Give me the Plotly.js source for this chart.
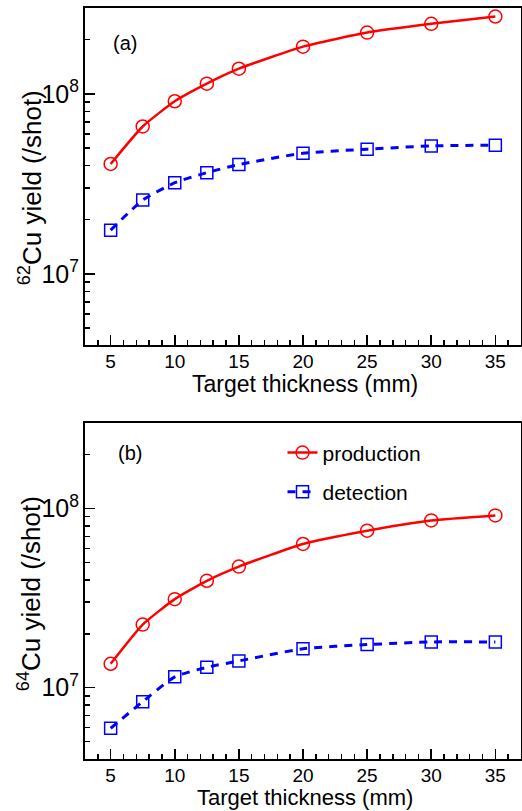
<!DOCTYPE html>
<html>
<head>
<meta charset="utf-8">
<script src="https://cdn.plot.ly/plotly-3.0.1.min.js"></script>
<style>html,body{margin:0;padding:0;background:#fff;}#chart{width:522px;height:811px;}</style>
</head>
<body>
<div id="chart"></div>
<script>
// Data
const thickness = [5, 7.5, 10, 12.5, 15, 20, 25, 30, 35];
const cu62Production = [4.08e7, 6.59e7, 9.1e7, 1.14e8, 1.38e8, 1.83e8, 2.19e8, 2.45e8, 2.69e8];
const cu62Detection  = [1.75e7, 2.57e7, 3.21e7, 3.65e7, 4.05e7, 4.68e7, 4.93e7, 5.14e7, 5.19e7];
const cu64Production = [1.36e7, 2.25e7, 3.12e7, 3.95e7, 4.74e7, 6.34e7, 7.52e7, 8.58e7, 9.15e7];
const cu64Detection  = [5.94e6, 8.36e6, 1.15e7, 1.30e7, 1.41e7, 1.65e7, 1.74e7, 1.80e7, 1.80e7];
const seriesNames = ['production', 'detection'];
const xTickVals = [5, 10, 15, 20, 25, 30, 35];
const xTitle = 'Target thickness (mm)';
const yTitles = ['<sup>62</sup>Cu yield (/shot)', '<sup>64</sup>Cu yield (/shot)'];
const panelLabels = ['(a)', '(b)'];

const FONT = 'Liberation Sans, Arial, sans-serif';
const prodStyle = {
  mode: 'lines+markers',
  line: {color: '#ff0000', width: 2.5, shape: 'spline', smoothing: 0.5},
  marker: {symbol: 'circle-open', size: 13, color: '#ff0000', line: {width: 1.5, color: '#ff0000'}}
};
const detStyle = {
  mode: 'lines+markers',
  line: {color: '#0000ff', width: 3, dash: '8px,7px', shape: 'spline', smoothing: 0.5},
  marker: {symbol: 'square-open', size: 12, color: '#0000ff', line: {width: 1.5, color: '#0000ff'}}
};

const traces = [
  Object.assign({x: thickness, y: cu62Production, name: seriesNames[0], xaxis: 'x', yaxis: 'y', showlegend: false}, prodStyle),
  Object.assign({x: thickness, y: cu62Detection, name: seriesNames[1], xaxis: 'x', yaxis: 'y', showlegend: false}, detStyle),
  Object.assign({x: thickness, y: cu64Production, name: seriesNames[0], xaxis: 'x2', yaxis: 'y2', legend: 'legend'}, prodStyle),
  Object.assign({x: thickness, y: cu64Detection, name: seriesNames[1], xaxis: 'x2', yaxis: 'y2', legend: 'legend2'}, detStyle)
];

function xax(anchor) {
  return {
    anchor: anchor, domain: [0, 1], range: [3, 37],
    tickvals: xTickVals, ticks: 'inside', ticklen: 10, tickwidth: 1.5, tickcolor: '#000',
    minor: {dtick: 1, tick0: 0, ticks: 'inside', ticklen: 5, tickwidth: 1.5, tickcolor: '#000'},
    showline: true, linewidth: 2, linecolor: '#000', mirror: true,
    showgrid: false, zeroline: false, ticklabelstandoff: -2,
    tickfont: {family: FONT, size: 19, color: '#000'}
  };
}
function yax(anchor, domain) {
  return {
    anchor: anchor, domain: domain, type: 'log',
    range: [Math.log10(4e6), Math.log10(3e8)],
    dtick: 1, exponentformat: 'power',
    ticks: 'inside', ticklen: 10, tickwidth: 1.5, tickcolor: '#000',
    minor: {dtick: 'D1', ticks: 'inside', ticklen: 5, tickwidth: 1.5, tickcolor: '#000'},
    showline: true, linewidth: 2, linecolor: '#000', mirror: true,
    showgrid: false, zeroline: false,
    tickfont: {family: FONT, size: 20, color: '#000'}
  };
}
function ann(text, x, y, size, angle) {
  return {text: text, xref: 'paper', yref: 'paper', x: x, y: y, showarrow: false,
          xanchor: 'center', yanchor: 'middle', textangle: angle || 0,
          font: {family: FONT, size: size, color: '#000'}};
}

const layout = {
  width: 522, height: 811,
  margin: {l: 85, r: 1, t: 8, b: 52},
  paper_bgcolor: '#fff', plot_bgcolor: '#fff',
  font: {family: FONT, color: '#000'},
  xaxis: xax('y'),
  yaxis: yax('x', [0.5506, 1]),
  xaxis2: xax('y2'),
  yaxis2: yax('x2', [0, 0.4474]),
  legend: {x: 0.453, y: 0.4075, xanchor: 'left', yanchor: 'middle', bgcolor: 'rgba(0,0,0,0)',
           font: {family: FONT, size: 21, color: '#000'}},
  legend2: {x: 0.453, y: 0.3555, xanchor: 'left', yanchor: 'middle', bgcolor: 'rgba(0,0,0,0)',
           font: {family: FONT, size: 21, color: '#000'}},
  annotations: [
    ann(panelLabels[0], 0.092, 0.953, 20),
    ann(panelLabels[1], 0.103, 0.4075, 20),
    ann(xTitle, 0.5046, 0.4993, 23),
    ann(xTitle, 0.5046, -0.0513, 22),
    ann(yTitles[0], -0.126, 0.760, 26, -90),
    ann(yTitles[1], -0.128, 0.2197, 26, -90)
  ]
};

Plotly.newPlot('chart', traces, layout, {displayModeBar: false, staticPlot: true});
</script>
</body>
</html>
